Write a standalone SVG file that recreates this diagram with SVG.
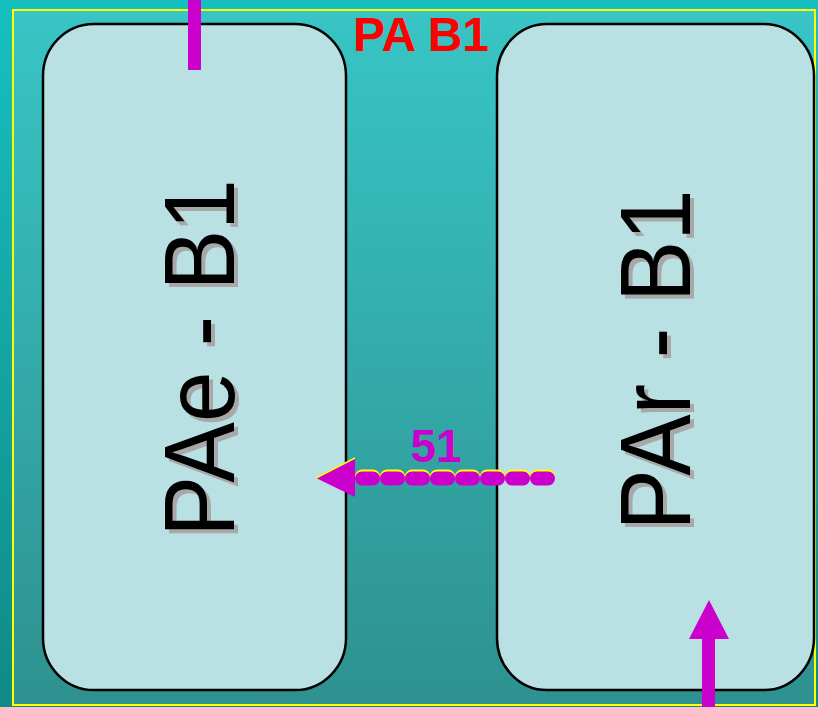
<svg xmlns="http://www.w3.org/2000/svg" width="818" height="707" viewBox="0 0 818 707">
<defs>
<linearGradient id="bg" x1="0" y1="0" x2="0" y2="1"><stop offset="0" stop-color="#17c0c0"/><stop offset="1" stop-color="#108a85"/></linearGradient>
<linearGradient id="inner" x1="0" y1="0" x2="0" y2="1"><stop offset="0" stop-color="#38c5c5"/><stop offset="1" stop-color="#2e918f"/></linearGradient>
</defs>
<style>
.node{fill:#b9e0e3;stroke:#000;stroke-width:2.5}
.lbl{font-family:"Liberation Sans",Arial,sans-serif;font-size:100px;text-anchor:middle}
.mag{fill:#cc00cc}
</style>
<rect width="818" height="707" fill="url(#bg)"/>
<rect x="13" y="10" width="802" height="695" fill="url(#inner)" stroke="#ffff00" stroke-width="2"/>
<text x="421" y="51" font-family="Liberation Sans,Arial,sans-serif" font-weight="bold" font-size="48" fill="#ff0000" text-anchor="middle">PA B1</text>
<g id="node-pae">
<rect class="node" x="43" y="24" width="303" height="666" rx="51" ry="52"/>
<text class="lbl" transform="translate(238,362) rotate(-90) scale(0.91,1)" fill="#a8a8a8">PAe - B1</text>
<text class="lbl" transform="translate(234,358) rotate(-90) scale(0.91,1)" fill="#000">PAe - B1</text>
</g>
<g id="node-par">
<rect class="node" x="497" y="24" width="317" height="666" rx="50" ry="52"/>
<text class="lbl" transform="translate(694,364) rotate(-90) scale(0.92,1)" fill="#a8a8a8">PAr - B1</text>
<text class="lbl" transform="translate(690,360) rotate(-90) scale(0.92,1)" fill="#000">PAr - B1</text>
</g>
<g id="connectors">
<rect class="mag" x="188" y="0" width="13" height="70"/>
<rect class="mag" x="702" y="638" width="13" height="69"/>
<polygon class="mag" points="709,600 689,639 729,639"/>
<line x1="362" y1="476.5" x2="548" y2="476.5" stroke="#ffff00" stroke-width="14" stroke-linecap="round" stroke-dasharray="11 14"/>
<line x1="362" y1="478.5" x2="548" y2="478.5" stroke="#cc00cc" stroke-width="14" stroke-linecap="round" stroke-dasharray="11 14"/>
<polygon class="mag" points="316,478 355,458 355,497"/>
<line x1="316" y1="478" x2="355" y2="458" stroke="#ffff00" stroke-width="1.5"/>
<text x="436" y="462" font-family="Liberation Sans,Arial,sans-serif" font-weight="bold" font-size="46" fill="#cc00cc" text-anchor="middle">51</text>
</g>
</svg>
